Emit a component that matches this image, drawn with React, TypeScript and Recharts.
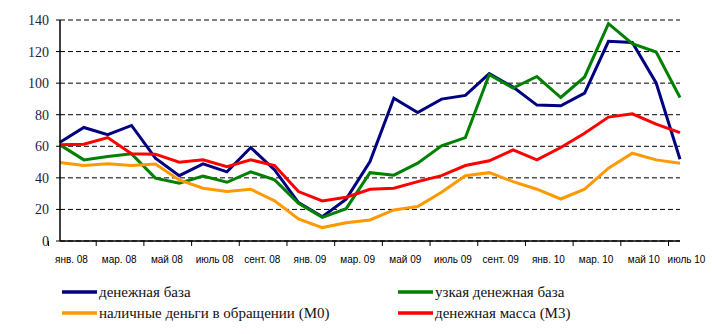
import React from 'react';
import { LineChart, Line, XAxis, YAxis, CartesianGrid, Legend } from 'recharts';

const categories = [
  'янв. 08', 'фев. 08', 'мар. 08', 'апр. 08', 'май 08', 'июнь 08', 'июль 08', 'авг. 08',
  'сент. 08', 'окт. 08', 'янв. 09', 'фев. 09', 'мар. 09', 'апр. 09', 'май 09', 'июнь 09',
  'июль 09', 'авг. 09', 'сент. 09', 'окт. 09', 'янв. 10', 'фев. 10', 'мар. 10', 'апр. 10',
  'май 10', 'июнь 10', 'июль 10',
];

const moneyBase = [62.6, 71.9, 67.4, 73.2, 52.5, 41.4, 48.9, 43.8, 59.2, 45.0, 24.3, 15.4, 26.5, 50.3, 90.5, 81.4, 89.9, 92.2, 106.0, 97.5, 86.1, 85.7, 93.7, 126.5, 125.8, 100.1, 51.8];
const narrowBase = [60.9, 51.4, 53.5, 55.2, 39.8, 36.6, 41.2, 37.2, 43.8, 38.7, 23.9, 15.0, 20.5, 43.3, 41.7, 49.3, 60.3, 65.5, 105.3, 96.9, 104.2, 90.9, 103.9, 137.7, 125.0, 119.7, 90.9];
const cashM0 = [49.7, 47.8, 48.9, 47.8, 48.7, 38.7, 33.4, 31.3, 32.8, 25.4, 14.0, 8.5, 11.6, 13.3, 19.7, 21.8, 30.9, 41.4, 43.3, 37.6, 32.8, 26.6, 32.8, 46.1, 55.6, 51.4, 49.3];
const moneyM3 = [60.9, 61.3, 65.5, 55.2, 55.0, 49.9, 51.4, 47.1, 51.4, 47.8, 31.3, 25.4, 27.7, 32.8, 33.4, 37.6, 41.4, 47.8, 50.8, 57.7, 51.4, 59.2, 68.3, 78.5, 80.6, 74.0, 68.7];

const yTicks = [0, 20, 40, 60, 80, 100, 120, 140];

const seriesNames = ['денежная база', 'узкая денежная база', 'наличные деньги в обращении (M0)', 'денежная масса (M3)'];

const data = categories.map((c, i) => ({
  cat: c,
  base: moneyBase[i],
  narrow: narrowBase[i],
  m0: cashM0[i],
  m3: moneyM3[i],
}));

const W = 712;
const H = 334;
const LEFT = 60;
const RIGHT = 32;
const BW = (W - LEFT - RIGHT) / categories.length;

const SERIF = 'Liberation Serif';
const SANS = 'Liberation Sans';

const XTick = (props: any) => {
  const { x, y, payload } = props;
  const last = payload && payload.index === categories.length - 1;
  const lx = x + BW / 2 - (last ? 5 : 0);
  return (
    <g>
      <line x1={x - BW / 2} x2={x - BW / 2} y1={y} y2={y + 5} stroke="#000" strokeWidth={1} />
      <text x={lx} y={y + 22} textAnchor="middle" fontFamily={SANS} fontSize={10} fill="#000">
        {payload.value}
      </text>
    </g>
  );
};

const YTick = (props: any) => {
  const { x, y, payload } = props;
  return (
    <text x={x} y={y} dy={5} textAnchor="end" fontFamily={SERIF} fontSize={14} fill="#1a1f3f">
      {payload.value}
    </text>
  );
};

const legendItems = [
  { name: seriesNames[0], color: '#000080', x: 62, y: 22 },
  { name: seriesNames[2], color: '#FF9900', x: 62, y: 43 },
  { name: seriesNames[1], color: '#008000', x: 398, y: 22 },
  { name: seriesNames[3], color: '#FF0000', x: 398, y: 43 },
];

const LegendContent = () => (
  <svg width={W} height={64} style={{ display: 'block' }}>
    {legendItems.map((it) => (
      <g key={it.name}>
        <line x1={it.x} x2={it.x + 35} y1={it.y} y2={it.y} stroke={it.color} strokeWidth={3.5} />
        <text x={it.x + 37} y={it.y + 5} fontFamily={SERIF} fontSize={15} fill="#111">
          {it.name}
        </text>
      </g>
    ))}
  </svg>
);

export default function App() {
  return (
    <div style={{ position: 'absolute', left: 0, top: 0, width: W, height: H, background: '#fff' }}>
      <LineChart width={W} height={H} data={data} margin={{ top: 20, right: RIGHT, bottom: 63, left: 0 }}>
        <CartesianGrid horizontal vertical={false} stroke="#000" strokeDasharray="5 3" />
        <XAxis
          dataKey="cat"
          interval={1}
          height={30}
          tickSize={0}
          tickMargin={0}
          tickLine={false}
          axisLine={{ stroke: '#000', strokeWidth: 1.5 }}
          tick={<XTick />}
        />
        <YAxis
          domain={[0, 140]}
          ticks={yTicks}
          width={LEFT}
          tickSize={4}
          tickMargin={7}
          axisLine={{ stroke: '#000', strokeWidth: 1.5 }}
          tickLine={{ stroke: '#000' }}
          tick={<YTick />}
        />
        <Legend
          layout="horizontal"
          verticalAlign="middle"
          align="center"
          content={<LegendContent />}
          wrapperStyle={{ position: 'absolute', left: 0, top: 270, width: W, height: 64 }}
        />
        <Line type="linear" dataKey="base" name={seriesNames[0]} stroke="#000080" strokeWidth={3} dot={false} isAnimationActive={false} />
        <Line type="linear" dataKey="narrow" name={seriesNames[1]} stroke="#008000" strokeWidth={3} dot={false} isAnimationActive={false} />
        <Line type="linear" dataKey="m0" name={seriesNames[2]} stroke="#FF9900" strokeWidth={3} dot={false} isAnimationActive={false} />
        <Line type="linear" dataKey="m3" name={seriesNames[3]} stroke="#FF0000" strokeWidth={3} dot={false} isAnimationActive={false} />
      </LineChart>
    </div>
  );
}
